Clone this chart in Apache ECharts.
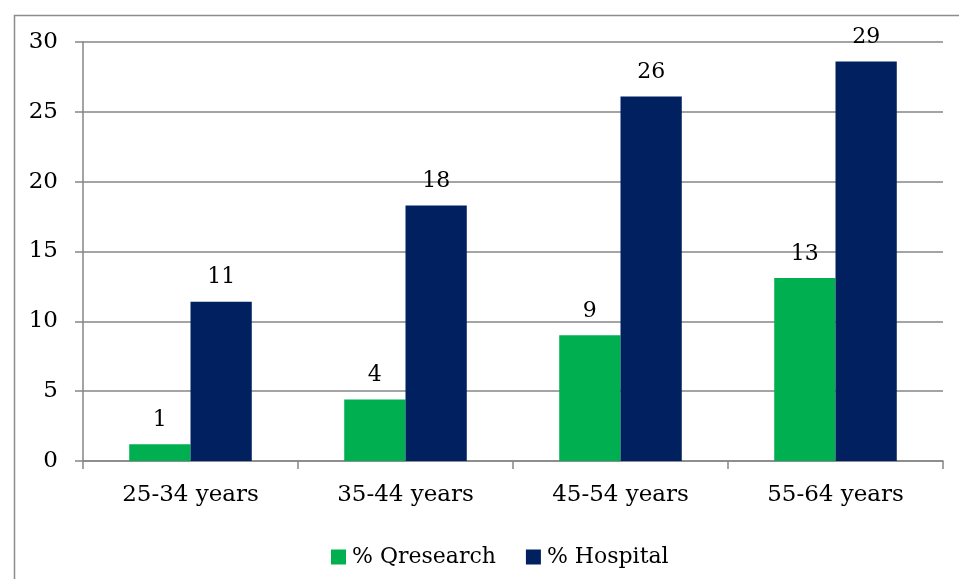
<!DOCTYPE html>
<html><head><meta charset="utf-8">
<script src="https://cdn.jsdelivr.net/npm/echarts@6/dist/echarts.min.js"></script>
<style>html,body{margin:0;padding:0;background:#fff}#c{width:959px;height:579px}</style>
</head><body><div id="c"></div>
<script>
const categories = ['25-34 years', '35-44 years', '45-54 years', '55-64 years'];
const qresearch = [1.2, 4.4, 9.0, 13.1];
const hospital = [11.4, 18.3, 26.1, 28.6];
const seriesNames = ['% Qresearch', '% Hospital'];
const FONT = 'DejaVu Serif';
const chart = echarts.init(document.getElementById('c'));
const lbl = {
  show: true, position: 'top', distance: 13,
  fontFamily: FONT, fontSize: 22, color: '#000',
  formatter: p => Math.round(p.value)
};
chart.setOption({
  animation: false,
  textStyle: { fontFamily: FONT },
  graphic: [{ type: 'rect', left: 12, top: 13, shape: { width: 970, height: 600 }, style: { fill: 'none', stroke: '#8c8c8c', lineWidth: 1.5 } }],
  grid: { left: 83, right: 16, top: 42, bottom: 118 },
  legend: {
    left: 326, top: 541, itemWidth: 15, itemHeight: 15, itemGap: 30,
    icon: 'rect',
    textStyle: { fontFamily: FONT, fontSize: 22, color: '#000', padding: [0, 0, 0, 1] },
    data: seriesNames
  },
  xAxis: {
    type: 'category', data: categories,
    axisLine: { show: true, lineStyle: { color: '#868686', width: 1.5 } },
    axisTick: { show: true, length: 8, alignWithLabel: false, lineStyle: { color: '#868686', width: 1.5 } },
    axisLabel: { fontFamily: FONT, fontSize: 23, color: '#000', margin: 23 }
  },
  yAxis: {
    type: 'value', min: 0, max: 30, interval: 5,
    axisLine: { show: true, lineStyle: { color: '#868686', width: 1.5 } },
    axisTick: { show: true, length: 8, lineStyle: { color: '#868686', width: 1.5 } },
    splitLine: { show: true, lineStyle: { color: '#868686', width: 1.5 } },
    axisLabel: { fontFamily: FONT, fontSize: 23, color: '#000', margin: 25 }
  },
  series: [
    { name: seriesNames[0], type: 'bar', data: qresearch, barGap: '0%', barCategoryGap: '43%', itemStyle: { color: '#00B050' }, label: lbl },
    { name: seriesNames[1], type: 'bar', data: hospital, itemStyle: { color: '#002060' }, label: lbl }
  ]
});
</script></body></html>
